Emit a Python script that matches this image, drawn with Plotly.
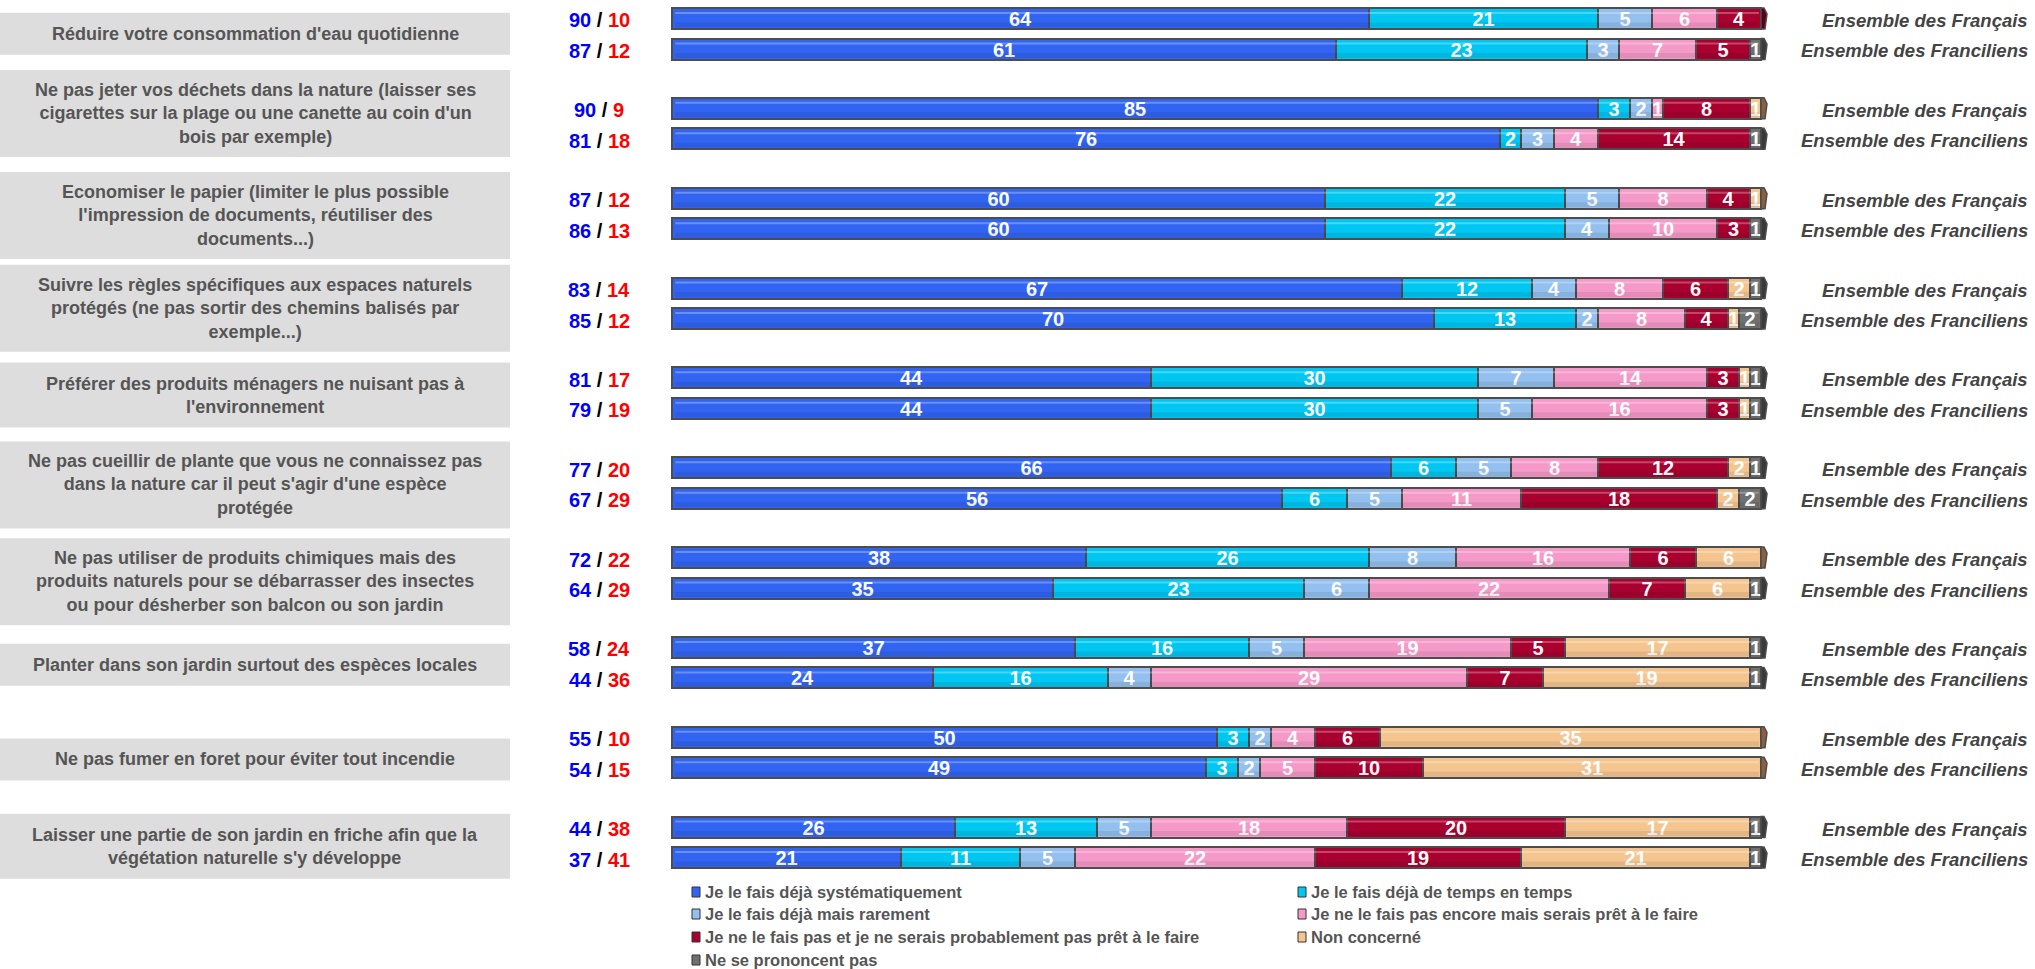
import plotly.graph_objects as go

W, H = 2035, 969

# ---------------- data ----------------
items = [
    "Réduire votre consommation d'eau quotidienne",
    "Ne pas jeter vos déchets dans la nature (laisser ses<br>cigarettes sur la plage ou une canette au coin d'un<br>bois par exemple)",
    "Economiser le papier (limiter le plus possible<br>l'impression de documents, réutiliser des<br>documents...)",
    "Suivre les règles spécifiques aux espaces naturels<br>protégés (ne pas sortir des chemins balisés par<br>exemple...)",
    "Préférer des produits ménagers ne nuisant pas à<br>l'environnement",
    "Ne pas cueillir de plante que vous ne connaissez pas<br>dans la nature car il peut s'agir d'une espèce<br>protégée",
    "Ne pas utiliser de produits chimiques mais des<br>produits naturels pour se débarrasser des insectes<br>ou pour désherber son balcon ou son jardin",
    "Planter dans son jardin surtout des espèces locales",
    "Ne pas fumer en foret pour éviter tout incendie",
    "Laisser une partie de son jardin en friche afin que la<br>végétation naturelle s'y développe",
]

categories = [
    "Je le fais déjà systématiquement",
    "Je le fais déjà de temps en temps",
    "Je le fais déjà mais rarement",
    "Je ne le fais pas encore mais serais prêt à le faire",
    "Je ne le fais pas et je ne serais probablement pas prêt à le faire",
    "Non concerné",
    "Ne se prononcent pas",
]

groups = ["Ensemble des Français", "Ensemble des Franciliens"]

# one row per item, values in category order
francais = [
    [64, 21, 5, 6, 4, 0, 0],
    [85, 3, 2, 1, 8, 1, 0],
    [60, 22, 5, 8, 4, 1, 0],
    [67, 12, 4, 8, 6, 2, 1],
    [44, 30, 7, 14, 3, 1, 1],
    [66, 6, 5, 8, 12, 2, 1],
    [38, 26, 8, 16, 6, 6, 0],
    [37, 16, 5, 19, 5, 17, 1],
    [50, 3, 2, 4, 6, 35, 0],
    [26, 13, 5, 18, 20, 17, 1],
]
franciliens = [
    [61, 23, 3, 7, 5, 0, 1],
    [76, 2, 3, 4, 14, 0, 1],
    [60, 22, 4, 10, 3, 0, 1],
    [70, 13, 2, 8, 4, 1, 2],
    [44, 30, 5, 16, 3, 1, 1],
    [56, 6, 5, 11, 18, 2, 2],
    [35, 23, 6, 22, 7, 6, 1],
    [24, 16, 4, 29, 7, 19, 1],
    [49, 3, 2, 5, 10, 31, 0],
    [21, 11, 5, 22, 19, 21, 1],
]

# ---------------- style / layout ----------------
colors = ["#3264f2", "#00c6f2", "#93c0ee", "#f59ac8", "#a8002f", "#f5c590", "#707070"]
cap_colors = ["#1f3fa0", "#0080a0", "#5a80a8", "#b06088", "#5a0018", "#8a6040", "#3a3a3a"]
outline = "#4d4d4d"
SANS = "Liberation Sans, Arial, sans-serif"

TOP_PX = 18.5      # pixel centre of first bar
PITCH_PX = 89.84   # pixels per item
PAIR_GAP = 30.5 / PITCH_PX
BAR_PX = 21
BAR_W = BAR_PX / PITCH_PX
X0_PX, X100_PX = 672, 1761
PX_PER_UNIT = (X100_PX - X0_PX) / 100.0

box_shift_px = [0, -10, 2, 5, 2, 2, 9, 2, 7, 4]


def px_x(px):
    return px / W


def px_y(px):
    return 1 - px / H


def bar_y(i, g):
    return i + g * PAIR_GAP


def y_to_px(y):
    return TOP_PX + y * PITCH_PX


fig = go.Figure()

rows = []
for i in range(len(items)):
    rows.append((i, 0, francais[i]))
    rows.append((i, 1, franciliens[i]))

for k, cat in enumerate(categories):
    xs = [r[2][k] for r in rows]
    ys = [bar_y(r[0], r[1]) for r in rows]
    fig.add_trace(go.Bar(
        name=cat,
        orientation="h",
        x=xs,
        y=ys,
        width=BAR_W,
        marker=dict(color=colors[k], line=dict(color=outline, width=2)),
        text=[str(v) if v > 0 else "" for v in xs],
        textposition="inside",
        insidetextanchor="middle",
        textangle=0,
        textfont=dict(family=SANS, size=20, color="white", weight="bold"),
        showlegend=False,
        hoverinfo="skip",
    ))

shapes = []
annotations = []

# 3D-like decorations: highlight stripe and right end cap
u = 1.0 / PITCH_PX  # one pixel in y data units
for (i, g, vals) in rows:
    yc = bar_y(i, g)
    top = yc - BAR_W / 2
    bot = yc + BAR_W / 2
    total = sum(vals)
    last = max(k for k, v in enumerate(vals) if v > 0)
    shapes.append(dict(type="line", xref="x", yref="y", x0=0.3, x1=total - 0.2,
                       y0=top + 5 * u, y1=top + 5 * u,
                       line=dict(color="rgba(255,255,255,0.28)", width=2), layer="above"))
    shapes.append(dict(type="line", xref="x", yref="y", x0=0.3, x1=total - 0.2,
                       y0=bot - 4 * u, y1=bot - 4 * u,
                       line=dict(color="rgba(0,0,0,0.08)", width=5), layer="above"))
    d = 1.0 / PX_PER_UNIT  # one pixel in x data units
    path = (f"M {total},{top} L {total + 3 * d},{top} L {total + 6 * d},{top + 6 * u} "
            f"L {total + 4 * d},{bot} L {total},{bot} Z")
    shapes.append(dict(type="path", xref="x", yref="y", path=path,
                       fillcolor=cap_colors[last], line=dict(color=outline, width=1.5),
                       layer="above"))

# left label boxes
for i, label in enumerate(items):
    nlines = label.count("<br>") + 1
    hbox = {1: 42, 2: 65, 3: 87}[nlines]
    centre = y_to_px(bar_y(i, 0.5)) + box_shift_px[i]
    shapes.append(dict(type="rect", xref="paper", yref="paper",
                       x0=0, x1=px_x(510), y0=px_y(centre - hbox / 2), y1=px_y(centre + hbox / 2),
                       fillcolor="#dddddd", line=dict(width=0), layer="below"))
    annotations.append(dict(xref="paper", yref="paper", x=px_x(255), y=px_y(centre),
                            text=label, showarrow=False, xanchor="center", yanchor="middle",
                            align="center",
                            font=dict(family=SANS, size=18, color="#555555", weight="bold")))

# ratio labels and group labels
for (i, g, vals) in rows:
    ypx = y_to_px(bar_y(i, g)) + 2
    done = sum(vals[0:3])
    notdone = vals[3] + vals[4]
    annotations.append(dict(xref="paper", yref="paper", x=px_x(599), y=px_y(ypx),
                            text=f"<span style='color:#0000ff'>{done}</span> / "
                                 f"<span style='color:#ff0000'>{notdone}</span>",
                            showarrow=False, xanchor="center", yanchor="middle",
                            font=dict(family=SANS, size=20, color="black", weight="bold")))
    annotations.append(dict(xref="paper", yref="paper", x=px_x(2030), y=px_y(ypx),
                            text=groups[g], showarrow=False, xanchor="right", yanchor="middle",
                            font=dict(family=SANS, size=18.5, color="#444444", weight="bold",
                                      style="italic")))

# legend (two columns)
leg_cols_px = [692, 1298]
leg_rows_px = [892, 914, 937, 960]
for k, cat in enumerate(categories):
    cx = leg_cols_px[k % 2]
    cy = leg_rows_px[k // 2]
    shapes.append(dict(type="rect", xref="paper", yref="paper",
                       x0=px_x(cx), x1=px_x(cx + 8), y0=px_y(cy - 5), y1=px_y(cy + 5),
                       fillcolor=colors[k], line=dict(color="#333333", width=1)))
    annotations.append(dict(xref="paper", yref="paper", x=px_x(cx + 11), y=px_y(cy),
                            text=cat, showarrow=False, xanchor="left", yanchor="middle",
                            font=dict(family=SANS, size=16.5, color="#555555", weight="bold")))

fig.update_layout(
    width=W, height=H,
    margin=dict(l=0, r=0, t=0, b=0),
    paper_bgcolor="white", plot_bgcolor="white",
    barmode="stack",
    bargap=0,
    uniformtext=dict(mode="show", minsize=20),
    xaxis=dict(range=[-X0_PX / PX_PER_UNIT, (W - X0_PX) / PX_PER_UNIT], visible=False,
               fixedrange=True),
    yaxis=dict(range=[(H - TOP_PX) / PITCH_PX, -TOP_PX / PITCH_PX], visible=False,
               fixedrange=True),
    shapes=shapes,
    annotations=annotations,
    showlegend=False,
)

fig.write_html("out.html", config={"displayModeBar": False},
               post_script="document.body.style.margin='0';document.body.style.overflow='hidden';")
